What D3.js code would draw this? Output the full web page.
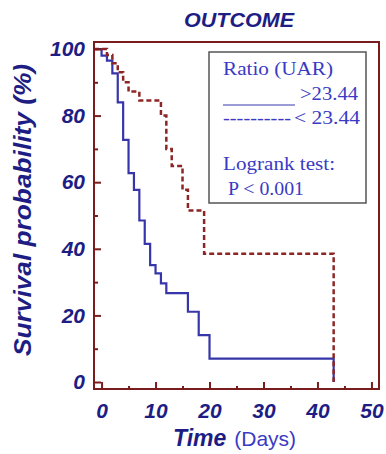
<!DOCTYPE html>
<html>
<head>
<meta charset="utf-8">
<script src="https://cdn.jsdelivr.net/npm/d3@7"></script>
<style>
  html, body { margin: 0; padding: 0; background: #fff; }
</style>
</head>
<body>
<svg id="chart"></svg>
<script>
// Kaplan-Meier steps (time in days, survival in %)
const timesHigh = [0, 1, 2, 3, 4, 5, 6, 7, 8, 9, 10, 11, 12, 16, 18, 20, 43];
const survHigh = [98, 96.5, 92.7, 84, 72.7, 62.7, 57.7, 48.5, 41.5, 35.1, 32.6, 29.6, 26.7, 21.1, 14.1, 7, 0];
const timesLow = [1, 2, 3, 4, 5, 7, 11, 12, 13, 15, 16, 19, 43];
const survLow = [98.2, 95.7, 93, 90, 87.2, 84.5, 80, 70, 64.9, 57.7, 51.5, 38.5, 0];

const xTicks = [0, 10, 20, 30, 40, 50];
const xMinor = [5, 15, 25, 35, 45];
const yTicks = [0, 20, 40, 60, 80, 100];
const yMinor = [10, 30, 50, 70, 90];

const width = 386;
const height = 454;
const frame = { left: 94, right: 379, top: 42, bottom: 389 };
const frameColor = '#7a1c1c';
const navy = '#1d1d84';
const legendBlue = '#3a3ac4';

const svg = d3.select('#chart').attr('width', width).attr('height', height);

const x = d3.scaleLinear().domain([-1.4, 51.4]).range([frame.left, frame.right]);
const y = d3.scaleLinear().domain([-2.1, 102.1]).range([frame.bottom, frame.top]);

// Title
svg.append('text')
  .attr('x', 239).attr('y', 27)
  .attr('text-anchor', 'middle')
  .attr('font-family', 'Liberation Sans, Arial, sans-serif')
  .attr('font-weight', 'bold').attr('font-style', 'italic')
  .attr('font-size', 21).attr('fill', navy)
  .attr('textLength', 110).attr('lengthAdjust', 'spacingAndGlyphs')
  .text('OUTCOME');

// Curves
const line = d3.line().x((d) => x(d[0])).y((d) => y(d[1])).curve(d3.curveStepAfter);
const highPts = [[x.domain()[0], 100]].concat(timesHigh.map((t, i) => [t, survHigh[i]]));
const lowPts = [[x.domain()[0], 100]].concat(timesLow.map((t, i) => [t, survLow[i]]));

svg.append('path').attr('d', line(highPts))
  .attr('fill', 'none').attr('stroke', '#3636aa').attr('stroke-width', 2.2);
svg.append('path').attr('d', line(lowPts))
  .attr('fill', 'none').attr('stroke', '#8c2626').attr('stroke-width', 2.5)
  .attr('stroke-dasharray', '5,3');

// Axes (ticks inside the frame)
const axisFont = (g, size) => g.selectAll('text')
  .attr('font-family', 'Liberation Sans, Arial, sans-serif')
  .attr('font-weight', 'bold').attr('font-style', 'italic')
  .attr('font-size', size).attr('fill', navy);

const xAxis = svg.append('g').attr('transform', `translate(0,${frame.bottom})`)
  .call(d3.axisBottom(x).tickValues(xTicks).tickSize(-7).tickPadding(14));
axisFont(xAxis, 21);
svg.append('g').attr('transform', `translate(0,${frame.bottom})`)
  .call(d3.axisBottom(x).tickValues(xMinor).tickSize(-3).tickFormat(''));

const yAxis = svg.append('g').attr('transform', `translate(${frame.left},0)`)
  .call(d3.axisLeft(y).tickValues(yTicks).tickSize(-7).tickPadding(9));
axisFont(yAxis, 21);
svg.append('g').attr('transform', `translate(${frame.left},0)`)
  .call(d3.axisLeft(y).tickValues(yMinor).tickSize(-4).tickFormat(''));

svg.selectAll('.domain').remove();
svg.selectAll('.tick line').attr('stroke', frameColor).attr('stroke-width', 2);

// Frame
svg.append('rect')
  .attr('x', frame.left).attr('y', frame.top)
  .attr('width', frame.right - frame.left).attr('height', frame.bottom - frame.top)
  .attr('fill', 'none').attr('stroke', frameColor).attr('stroke-width', 2);

// Axis titles
svg.append('text')
  .attr('transform', 'translate(31,210) rotate(-90)')
  .attr('text-anchor', 'middle')
  .attr('font-family', 'Liberation Sans, Arial, sans-serif')
  .attr('font-weight', 'bold').attr('font-style', 'italic')
  .attr('font-size', 24).attr('fill', navy)
  .attr('textLength', 292).attr('lengthAdjust', 'spacingAndGlyphs')
  .text('Survival probability (%)');

const xTitle = svg.append('text').attr('x', 173).attr('y', 446)
  .attr('font-family', 'Liberation Sans, Arial, sans-serif');
xTitle.append('tspan')
  .attr('font-weight', 'bold').attr('font-style', 'italic')
  .attr('font-size', 23).attr('fill', navy).text('Time');
xTitle.append('tspan').attr('dx', 8)
  .attr('font-size', 21).attr('fill', legendBlue).text('(Days)');

// Legend
const legend = svg.append('g');
legend.append('rect')
  .attr('x', 209).attr('y', 52).attr('width', 157).attr('height', 151)
  .attr('fill', '#fff').attr('stroke', '#555').attr('stroke-width', 1.5);

const legendText = (tx, ty, str, len, anchor) => legend.append('text')
  .attr('x', tx).attr('y', ty)
  .attr('text-anchor', anchor || 'start')
  .attr('font-family', 'Liberation Serif, Times New Roman, serif')
  .attr('font-size', 19).attr('fill', legendBlue)
  .attr('textLength', len).attr('lengthAdjust', 'spacingAndGlyphs')
  .text(str);

legendText(223, 75, 'Ratio (UAR)', 110);
legendText(300, 100, '>23.44', 58);
legend.append('line')
  .attr('x1', 223).attr('x2', 295).attr('y1', 105).attr('y2', 105)
  .attr('stroke', '#7a7ac8').attr('stroke-width', 1.3);
legendText(223, 124, '----------', 68);
legendText(294, 124, '< 23.44', 66);
legendText(223, 170, 'Logrank  test:', 112);
legendText(228, 195, 'P < 0.001', 76);
</script>
</body>
</html>
